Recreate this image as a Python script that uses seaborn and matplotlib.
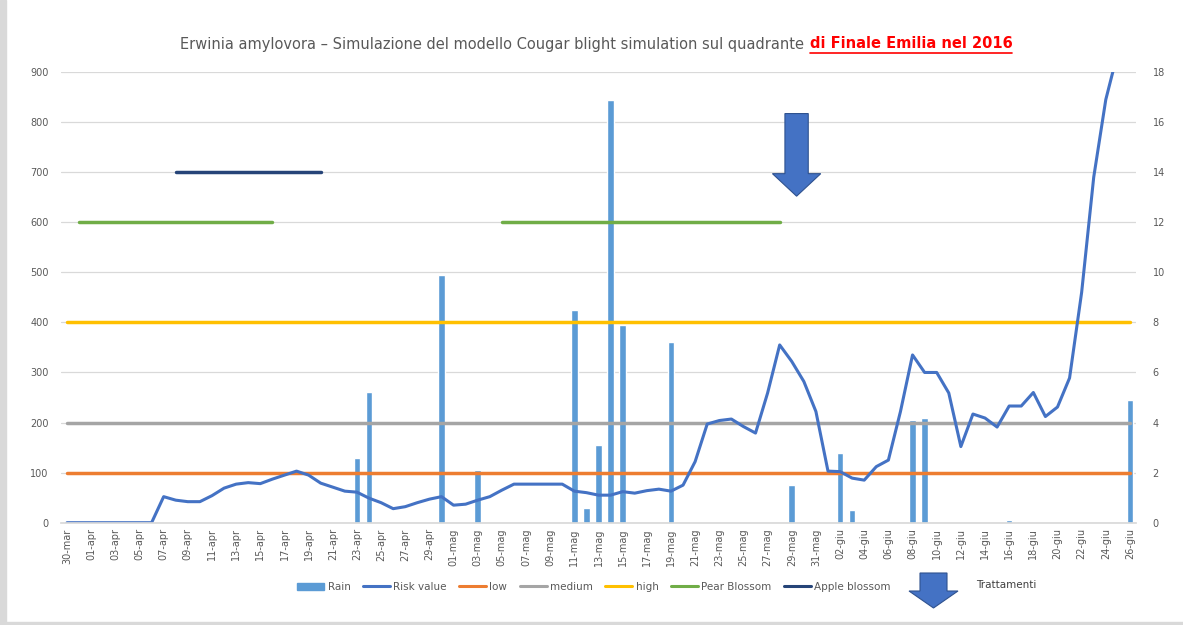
import numpy as np
import pandas as pd
import seaborn as sns
import matplotlib.pyplot as plt
from matplotlib.patches import Patch, FancyArrow, Rectangle
from matplotlib.lines import Line2D

# days 30-mar .. 26-giu 2016, italian month abbreviations
months_it = {3: 'mar', 4: 'apr', 5: 'mag', 6: 'giu'}
days = pd.date_range('2016-03-30', '2016-06-26')
day_labels = [f"{d.day:02d}-{months_it[d.month]}" for d in days]

# risk value (left axis)
risk = [0, 0, 0, 0, 0, 0, 0, 0, 52, 45,
        42, 42, 54, 69, 77, 80, 78, 87, 95, 103,
        95, 79, 71, 63, 61, 49, 40, 28, 32, 40,
        47, 52, 35, 37, 45, 52, 65, 77, 77, 77,
        77, 77, 63, 60, 55, 55, 62, 59, 64, 67,
        63, 75, 122, 197, 204, 207, 192, 179, 259, 355,
        322, 282, 222, 103, 102, 89, 85, 112, 125, 222,
        335, 300, 300, 259, 152, 217, 209, 191, 233, 233,
        260, 212, 231, 289, 460, 690, 845, 940, 1000]

# rain mm (right axis)
rain = [0, 0, 0, 0, 0, 0, 0, 0, 0, 0,
        0, 0, 0, 0, 0, 0, 0, 0, 0, 0,
        0, 0, 0, 0, 2.6, 5.2, 0, 0, 0, 0,
        0, 9.9, 0, 0, 2.1, 0, 0, 0, 0, 0,
        0, 0, 8.5, 0.6, 3.1, 16.9, 7.9, 0, 0, 0,
        7.2, 0, 0, 0, 0, 0, 0, 0, 0, 0,
        1.5, 0, 0, 0, 2.8, 0.5, 0, 0, 0, 0,
        4.1, 4.2, 0, 0, 0, 0, 0, 0, 0.1, 0,
        0, 0, 0, 0, 0, 0, 0, 0, 4.9]

thresholds = {'low': 100, 'medium': 200, 'high': 400}
pear_level = 600
pear_periods = [('31-mar', '16-apr'), ('05-mag', '28-mag')]
apple_level = 700
apple_periods = [('08-apr', '20-apr')]
treatment_day = 60.4  # between 28-mag and 29-mag

colors = {'Rain': '#5B9BD5', 'Risk value': '#4472C4', 'low': '#ED7D31',
          'medium': '#A5A5A5', 'high': '#FFC000', 'Pear Blossom': '#70AD47',
          'Apple blossom': '#264478'}

sns.set_theme(style='white')
plt.rcParams['font.family'] = ['DejaVu Sans']
txt = '#595959'

n = len(day_labels)
x = np.arange(n)
df = pd.DataFrame({'x': x, 'risk': risk, 'rain': rain})

fig = plt.figure(figsize=(11.83, 6.25), dpi=100)
ax = fig.add_axes([61 / 1183, 1 - 522.7 / 625, 1075 / 1183, 450.7 / 625])
ax2 = ax.twinx()

# rain bars on the secondary axis (drawn below the lines)
sns.barplot(data=df, x='x', y='rain', native_scale=True, width=0.55,
            color=colors['Rain'], saturation=1, ax=ax2)
ax2.set_ylim(0, 18)
ax2.set_yticks(np.arange(0, 19, 2))
ax2.set_ylabel('')
ax2.yaxis.grid(True, color='#D9D9D9', lw=0.9)
ax2.set_axisbelow(True)

ax.set_zorder(ax2.get_zorder() + 1)
ax.patch.set_visible(False)

for name, lvl in thresholds.items():
    sns.lineplot(x=[0, n - 1], y=[lvl, lvl], color=colors[name], lw=2.5, ax=ax)

for a, b in pear_periods:
    i0, i1 = day_labels.index(a), day_labels.index(b)
    sns.lineplot(x=[i0, i1], y=[pear_level, pear_level], color=colors['Pear Blossom'], lw=2.5, ax=ax)
for a, b in apple_periods:
    i0, i1 = day_labels.index(a), day_labels.index(b)
    sns.lineplot(x=[i0, i1], y=[apple_level, apple_level], color=colors['Apple blossom'], lw=2.5, ax=ax)

sns.lineplot(data=df, x='x', y='risk', color=colors['Risk value'], lw=2.2, ax=ax)

# treatment arrow
ax.arrow(treatment_day, 817, 0, -165, width=1.93, head_width=4.0, head_length=45,
         length_includes_head=True, fc='#4472C4', ec='#2F528F', lw=0.8, zorder=5)

ax.set_ylim(0, 900)
ax.set_yticks(np.arange(0, 901, 100))
ax.set_xlim(-0.5, n - 0.5)
ax.set_xticks(x[::2])
ax.set_xticklabels(day_labels[::2], rotation=90)
ax.set_xlabel('')
ax.set_ylabel('')
for a in (ax, ax2):
    a.tick_params(length=0, labelsize=7, colors=txt)
    for s in a.spines.values():
        s.set_visible(False)
ax.tick_params(axis='y', pad=9)
ax2.tick_params(axis='y', pad=12)
ax.tick_params(axis='x', pad=4)
ax.spines['bottom'].set_visible(True)
ax.spines['bottom'].set_color('#D9D9D9')

# legend
handles = [Patch(color=colors['Rain'])] + [
    Line2D([], [], color=colors[k], lw=2.2) for k in list(colors)[1:]]
leg = fig.legend(handles, list(colors), loc='center', bbox_to_anchor=(594 / 1183, 1 - 587 / 625),
                 ncol=7, frameon=False, fontsize=7.5, handlelength=2.6,
                 columnspacing=1.2, handletextpad=0.3)
for t in leg.get_texts():
    t.set_color(txt)

fig.add_artist(FancyArrow(9.335, 0.52, 0, -0.35, width=0.27, head_width=0.49, head_length=0.17,
                          length_includes_head=True, fc='#4472C4', ec='#2F528F', lw=0.8,
                          transform=fig.dpi_scale_trans))
fig.text(976 / 1183, 1 - 585 / 625, 'Trattamenti', fontsize=7.5, color='#404040', va='center')

# title: grey part + red bold underlined part
ty = 1 - 44 / 625
t1 = fig.text(0, ty, 'Erwinia amylovora – Simulazione del modello Cougar blight simulation sul quadrante',
              fontsize=10.5, color=txt, va='center')
t2 = fig.text(0, ty, 'di Finale Emilia nel 2016', fontsize=10.5, color='red',
              fontweight='bold', va='center')
renderer = fig.canvas.get_renderer()
w1 = t1.get_window_extent(renderer).width
w2 = t2.get_window_extent(renderer).width
gap = 6
start = 596 - (w1 + gap + w2) / 2
t1.set_x(start / 1183)
t2.set_x((start + w1 + gap) / 1183)
bb = t2.get_window_extent(renderer)
fig.add_artist(Line2D([bb.x0 / 1183, bb.x1 / 1183], [(bb.y0 - 1) / 625] * 2,
                      color='red', lw=1.2, transform=fig.transFigure))

# chart frame
fig.add_artist(Rectangle((0, 0), 6 / 1183, 1, transform=fig.transFigure, color='#D9D9D9'))
fig.add_artist(Rectangle((0, 0), 1, 3 / 625, transform=fig.transFigure, color='#D9D9D9'))

plt.savefig('out.png', dpi=100)
